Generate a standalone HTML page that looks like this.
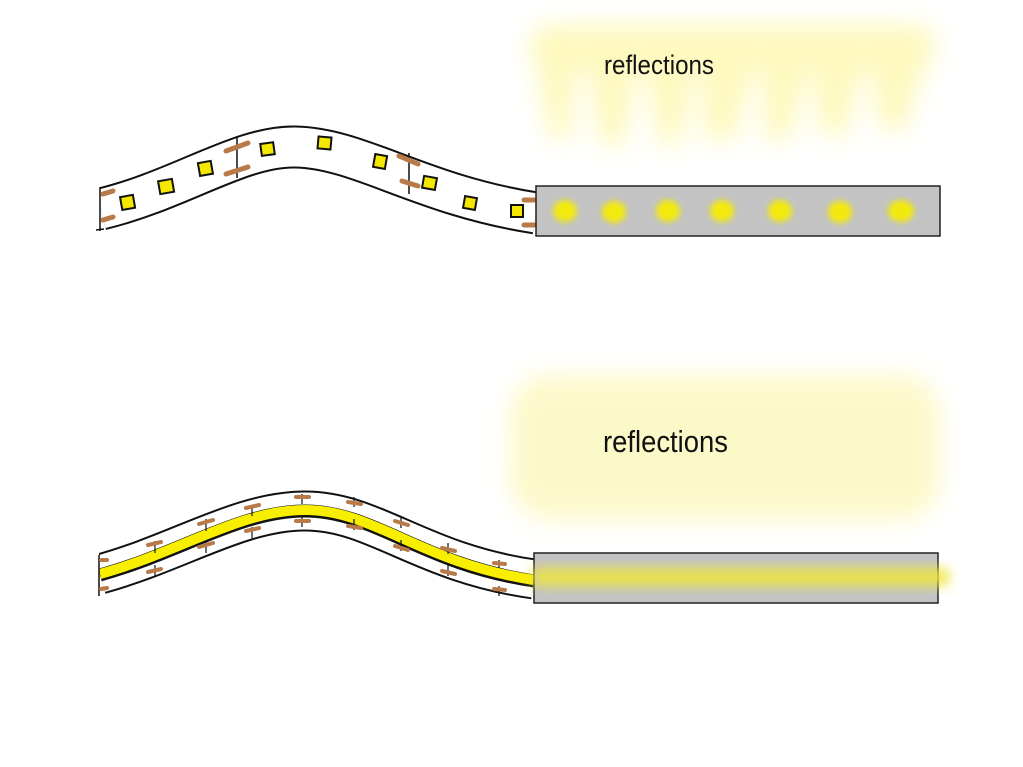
<!DOCTYPE html>
<html><head><meta charset="utf-8"><style>
html,body{margin:0;padding:0;background:#fff;}
svg{display:block;}
text{font-family:"Liberation Sans Narrow","Liberation Sans",sans-serif;}
</style></head><body>
<svg width="1023" height="767" viewBox="0 0 1023 767" xmlns="http://www.w3.org/2000/svg">
<defs>
<filter id="b6" x="-50%" y="-50%" width="200%" height="200%"><feGaussianBlur stdDeviation="6"/></filter>
<filter id="b12" x="-50%" y="-50%" width="200%" height="200%"><feGaussianBlur stdDeviation="12"/></filter>
<filter id="b3" x="-50%" y="-50%" width="200%" height="200%"><feGaussianBlur stdDeviation="3"/></filter>
</defs>

<!-- top reflections -->
<g filter="url(#b12)" fill="#fdf7a8" opacity="0.75">
<rect x="530" y="25" width="405" height="45" rx="20"/>
<path d="M530,35 L580,35 L570,140 L550,140 Z"/>
<path d="M585,45 L640,45 L625,145 L600,145 Z"/>
<path d="M640,45 L700,45 L680,145 L660,145 Z"/>
<path d="M700,40 L760,40 L735,140 L705,140 Z"/>
<path d="M760,40 L815,40 L790,140 L765,140 Z"/>
<path d="M810,40 L870,40 L845,135 L820,135 Z"/>
<path d="M865,30 L935,30 L905,130 L880,130 Z"/>
</g>
<text x="604" y="74" font-size="27" fill="#111" textLength="110" lengthAdjust="spacingAndGlyphs">reflections</text>

<!-- top strip -->
<path d="M101,209 C180,190 240,146 295,147 C360,148 420,195 536,213" fill="none" stroke="#111" stroke-width="43"/>
<path d="M101,209 C180,190 240,146 295,147 C360,148 420,195 536,213" fill="none" stroke="#fff" stroke-width="39"/>
<rect x="90" y="185" width="10" height="50" fill="#fff"/>
<line x1="100" y1="187" x2="100" y2="231" stroke="#111" stroke-width="1.5"/>
<line x1="96" y1="230" x2="104" y2="229" stroke="#111" stroke-width="1.5"/>
<line x1="237" y1="137" x2="237" y2="178" stroke="#111" stroke-width="1.5"/>
<line x1="409" y1="153" x2="409" y2="194" stroke="#111" stroke-width="1.5"/>
<g stroke="#b87a48" stroke-width="5" stroke-linecap="round">
<line x1="103" y1="194" x2="113" y2="191"/><line x1="103" y1="220" x2="113" y2="217"/>
<line x1="226" y1="151" x2="248" y2="143"/><line x1="226" y1="174" x2="248" y2="167"/>
<line x1="399" y1="156" x2="418" y2="164"/><line x1="402" y1="181" x2="418" y2="186"/>
<line x1="524" y1="200" x2="534" y2="200"/><line x1="524" y1="225" x2="534" y2="225"/>
</g>
<g fill="#f5e800" stroke="#111" stroke-width="2">
<rect x="121" y="196" width="13" height="13" transform="rotate(-10 127 202)"/>
<rect x="159" y="180" width="14" height="13" transform="rotate(-10 166 186)"/>
<rect x="199" y="162" width="13" height="13" transform="rotate(-10 205 169)"/>
<rect x="261" y="143" width="13" height="12" transform="rotate(-8 268 149)"/>
<rect x="318" y="137" width="13" height="12" transform="rotate(5 325 143)"/>
<rect x="374" y="155" width="12" height="13" transform="rotate(10 380 162)"/>
<rect x="423" y="177" width="13" height="12" transform="rotate(10 430 183)"/>
<rect x="464" y="197" width="12" height="12" transform="rotate(10 470 203)"/>
<rect x="511" y="205" width="12" height="12"/>
</g>
<rect x="536" y="186" width="404" height="50" fill="#c3c3c3" stroke="#222" stroke-width="1.5"/>
<g fill="#f3ea10" filter="url(#b3)">
<ellipse cx="565" cy="211" rx="12" ry="11"/><ellipse cx="614" cy="212" rx="12" ry="11"/>
<ellipse cx="668" cy="211" rx="12" ry="11"/><ellipse cx="722" cy="211" rx="12" ry="11"/>
<ellipse cx="780" cy="211" rx="12" ry="11"/><ellipse cx="840" cy="212" rx="12" ry="11"/>
<ellipse cx="901" cy="211" rx="13" ry="11"/>
</g>

<!-- bottom reflection -->
<g filter="url(#b12)" opacity="0.75">
<rect x="510" y="375" width="430" height="145" rx="40" fill="#fcf7b8"/>
</g>
<text x="603" y="452" font-size="31" fill="#111" textLength="125" lengthAdjust="spacingAndGlyphs">reflections</text>

<!-- bottom strip -->
<path d="M100,574 C180,552 240,511 305,511 C375,511 420,563 534,579" fill="none" stroke="#111" stroke-width="41"/>
<path d="M100,574 C180,552 240,511 305,511 C375,511 420,563 534,579" fill="none" stroke="#fff" stroke-width="37"/>
<path d="M100,575 C180,553 240,511 305,511 C375,511 420,564 534,581" fill="none" stroke="#111" stroke-width="13"/>
<path d="M100,574 C180,552 240,510 305,510 C375,510 420,563 534,580" fill="none" stroke="#f8ef00" stroke-width="10"/>
<rect x="88" y="545" width="11" height="60" fill="#fff"/>
<line x1="99" y1="555" x2="99" y2="596" stroke="#111" stroke-width="1.5"/>
<g stroke="#111" stroke-width="1.2">
<line x1="155" y1="541" x2="155" y2="553"/><line x1="155" y1="565" x2="155" y2="577"/>
<line x1="206" y1="519" x2="206" y2="531"/><line x1="206" y1="541" x2="206" y2="553"/>
<line x1="252" y1="505" x2="252" y2="516"/><line x1="252" y1="527" x2="252" y2="538"/>
<line x1="302" y1="494" x2="302" y2="504"/><line x1="302" y1="516" x2="302" y2="527"/>
<line x1="354" y1="497" x2="354" y2="507"/><line x1="354" y1="519" x2="354" y2="530"/>
<line x1="401" y1="516" x2="401" y2="528"/><line x1="401" y1="540" x2="401" y2="551"/>
<line x1="448" y1="543" x2="448" y2="554"/><line x1="448" y1="565" x2="448" y2="576"/>
<line x1="499" y1="560" x2="499" y2="568"/><line x1="499" y1="586" x2="499" y2="596"/>
</g>
<g stroke="#b87a48" stroke-width="4" stroke-linecap="round">
<line x1="101" y1="560" x2="107" y2="560"/><line x1="101" y1="589" x2="107" y2="588"/>
<line x1="148" y1="545" x2="161" y2="542"/><line x1="148" y1="572" x2="161" y2="569"/>
<line x1="199" y1="524" x2="213" y2="520"/><line x1="199" y1="547" x2="213" y2="543"/>
<line x1="246" y1="508" x2="259" y2="505"/><line x1="246" y1="531" x2="259" y2="528"/>
<line x1="296" y1="497" x2="309" y2="497"/><line x1="296" y1="521" x2="309" y2="521"/>
<line x1="348" y1="502" x2="361" y2="504"/><line x1="348" y1="526" x2="361" y2="528"/>
<line x1="395" y1="521" x2="408" y2="525"/><line x1="395" y1="546" x2="408" y2="550"/>
<line x1="442" y1="548" x2="455" y2="551"/><line x1="442" y1="571" x2="455" y2="574"/>
<line x1="494" y1="563" x2="505" y2="564"/><line x1="494" y1="589" x2="505" y2="590"/>
</g>
<rect x="534" y="553" width="404" height="50" fill="#c3c3c3" stroke="#222" stroke-width="1.5"/>
<g filter="url(#b6)">
<rect x="530" y="568" width="420" height="18" rx="9" fill="#eee63a" opacity="0.9"/>
</g>
</svg>
</body></html>
